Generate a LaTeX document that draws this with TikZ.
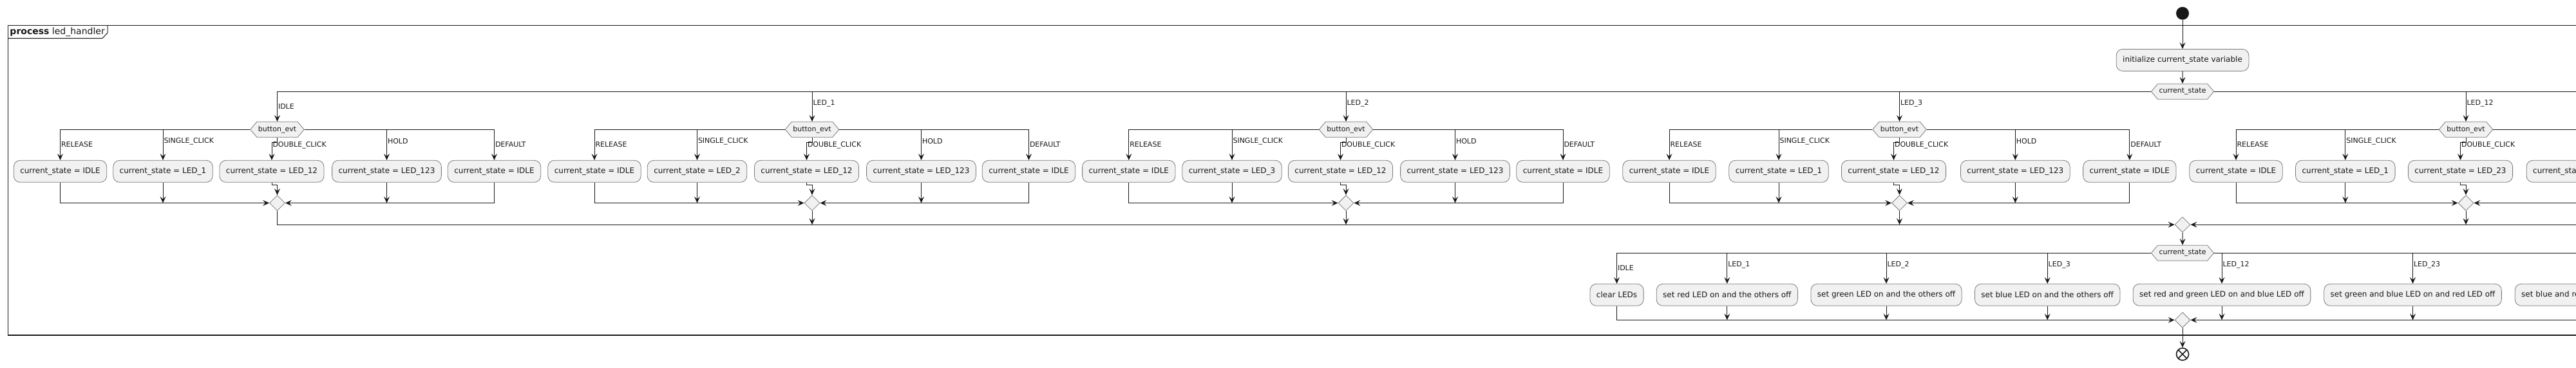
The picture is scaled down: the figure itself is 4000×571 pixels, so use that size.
\documentclass[tikz,border=0pt]{standalone}
\usepackage{fontspec}
\setmainfont{DejaVu Sans}
\usetikzlibrary{calc}
\usetikzlibrary{arrows.meta}
\usetikzlibrary{shapes.geometric}
\usetikzlibrary{shapes.symbols}
\definecolor{ink}{HTML}{181818}
\definecolor{shade}{HTML}{F1F1F1}
\definecolor{edgegray}{HTML}{7A7A7A}
\tikzset{act/.style = {draw=edgegray, fill=shade, rectangle, rounded corners=10pt,
                       minimum height=34pt, inner xsep=10pt, inner ysep=0pt,
                       line width=0.8pt, font=\fontsize{12}{14}\selectfont}}
\tikzset{hexa/.style = {draw=edgegray, fill=shade, signal, signal to=east and west,
                        signal pointer angle=100, minimum height=24pt, inner xsep=2pt,
                        inner ysep=0pt, line width=0.8pt, font=\fontsize{11}{13}\selectfont}}
\tikzset{merge/.style = {draw=edgegray, fill=shade, diamond, aspect=1,
                         minimum size=24pt, inner sep=0pt, line width=0.8pt}}
\tikzset{lbl/.style = {anchor=west, inner xsep=1pt, inner ysep=0pt,
                       font=\fontsize{11}{13}\selectfont}}
\tikzset{flow/.style = {-{Stealth[length=10pt, width=9pt, inset=4pt]}}}
\begin{document}
\begin{tikzpicture}[x=1pt, y=-1pt, color=ink, line width=1pt]
        \useasboundingbox (0,0) rectangle (4000,571);
        \coordinate (rim) at (4010,0);
        \draw[line width=1.5pt] (4010,39.5) -- (12.3,39.5) -- (12.3,521) -- (4010,521);
        \draw (12.3,59.5) -- (159,59.5) -- (167,51) -- (167,39.5);
        \node[anchor=west, inner sep=0pt, font=\fontsize{14}{16}\selectfont] (ttl) at (15,49.5) {\textbf{process} led\_handler};
        \node[fill=ink, circle, inner sep=0pt, minimum size=20pt] (start) at (3389,20.7) {};
        \node[act] (init) at (3389,93.4) {initialize current\_state variable};
        \node[hexa] (sw) at (3389,142.3) {current\_state};
        \node[hexa] (ev1) at (430.5,201.3) {button\_evt};
        \node[act] (rel1) at (93.5,266.3) {current\_state = IDLE};
        \node[act] (sgl1) at (253,266.3) {current\_state = LED\_1};
        \node[act] (dbl1) at (422,266.3) {current\_state = LED\_12};
        \node[act] (hld1) at (600.5,266.3) {current\_state = LED\_123};
        \node[act] (dft1) at (767.5,266.3) {current\_state = IDLE};
        \node[merge] (mg1) at (430.5,315.5) {};
        \node[hexa] (ev2) at (1261,201.3) {button\_evt};
        \node[act] (rel2) at (923,266.3) {current\_state = IDLE};
        \node[act] (sgl2) at (1082.5,266.3) {current\_state = LED\_2};
        \node[act] (dbl2) at (1252.5,266.3) {current\_state = LED\_12};
        \node[act] (hld2) at (1430.5,266.3) {current\_state = LED\_123};
        \node[act] (dft2) at (1597.5,266.3) {current\_state = IDLE};
        \node[merge] (mg2) at (1261,315.5) {};
        \node[hexa] (ev3) at (2090,201.3) {button\_evt};
        \node[act] (rel3) at (1752.8,266.3) {current\_state = IDLE};
        \node[act] (sgl3) at (1913,266.3) {current\_state = LED\_3};
        \node[act] (dbl3) at (2081.5,266.3) {current\_state = LED\_12};
        \node[act] (hld3) at (2259.5,266.3) {current\_state = LED\_123};
        \node[act] (dft3) at (2427,266.3) {current\_state = IDLE};
        \node[merge] (mg3) at (2090,315.5) {};
        \node[hexa] (ev4) at (2949.5,201.3) {button\_evt};
        \node[act] (rel4) at (2592,266.3) {current\_state = IDLE};
        \node[act] (sgl4) at (2762,266.3) {current\_state = LED\_1};
        \node[act] (dbl4) at (2940.5,266.3) {current\_state = LED\_12};
        \node[act] (hld4) at (3129.3,266.3) {current\_state = LED\_123};
        \node[act] (dft4) at (3306.8,266.3) {current\_state = IDLE};
        \node[merge] (mg4) at (2949.5,315.5) {};
        \node[hexa] (ev5) at (3829,201.3) {button\_evt};
        \node[act] (rel5) at (3472,266.3) {current\_state = IDLE};
        \node[act] (sgl5) at (3641.8,266.3) {current\_state = LED\_1};
        \node[act] (dbl5) at (3820.5,266.3) {current\_state = LED\_23};
        \node[act] (hld5) at (4008,266.3) {current\_state = LED\_123};
        \node[merge] (mg5) at (3829,315.5) {};
        \node[merge] (omg) at (3389,349.2) {};
        \node[hexa] (sw2) at (3389,393.3) {current\_state};
        \node[act] (o1) at (2510.5,458.3) {clear LEDs};
        \node[act] (o2) at (2681.8,458.3) {set red LED on and the others off};
        \node[act] (o3) at (2929,458.3) {set green LED on and the others off};
        \node[act] (o4) at (3179.2,458.3) {set blue LED on and the others off};
        \node[act] (o5) at (3450,458.3) {set red and green LED on and blue LED off};
        \node[act] (o6) at (3746.5,458.3) {set green and blue LED on and red LED off};
        \node[act] (o7) at (4043,458.3) {set blue and red LED on and green LED off};
        \node[merge] (fin) at (3389,497.4) {};
        \node[circle, draw=ink, line width=1.6pt, minimum size=19pt, inner sep=0pt,
              path picture={\draw[line width=1.6pt] (path picture bounding box.north west) -- (path picture bounding box.south east)
                            (path picture bounding box.north east) -- (path picture bounding box.south west);}] (stop) at (3389,550.5) {};
        \draw[flow] (start) -- (init);
        \draw[flow] (init) -- (sw);
        \draw (ev1 |- sw) -- (sw.west);
        \draw (sw.east) -- (rim |- sw);
        \draw[flow] (ev1 |- sw) -- node[lbl, pos=.5] (p1) {IDLE} (ev1.north);
        \draw[flow] (ev2 |- sw) -- node[lbl, pos=.4] (p2) {LED\_1} (ev2.north);
        \draw[flow] (ev3 |- sw) -- node[lbl, pos=.4] (p3) {LED\_2} (ev3.north);
        \draw[flow] (ev4 |- sw) -- node[lbl, pos=.4] (p4) {LED\_3} (ev4.north);
        \draw[flow] (ev5 |- sw) -- node[lbl, pos=.4] (p5) {LED\_12} (ev5.north);
        \draw (rel1 |- ev1) -- (ev1.west);
        \draw (ev1.east) -- (dft1 |- ev1);
        \draw[flow] (rel1 |- ev1) -- node[lbl, pos=.49] (q11) {RELEASE} (rel1.north);
        \draw[flow] (sgl1 |- ev1) -- node[lbl, pos=.39] (q12) {SINGLE\_CLICK} (sgl1.north);
        \draw[flow] (ev1.south) -- ++(0,7.5) -| (dbl1.north);
        \node[lbl] (q13) at ($(dbl1.north)+(0,-23)$) {DOUBLE\_CLICK};
        \draw[flow] (hld1 |- ev1) -- node[lbl, pos=.39] (q14) {HOLD} (hld1.north);
        \draw[flow] (dft1 |- ev1) -- node[lbl, pos=.49] (q15) {DEFAULT} (dft1.north);
        \draw[flow] (rel1.south) |- (mg1.west);
        \draw[flow] (sgl1.south) -- (sgl1 |- mg1);
        \draw[flow] (dbl1.south) -- ++(0,4) -| (mg1.north);
        \draw[flow] (hld1.south) -- (hld1 |- mg1);
        \draw[flow] (dft1.south) |- (mg1.east);
        \draw[flow] (mg1.south) |- (omg.west);
        \draw (rel2 |- ev2) -- (ev2.west);
        \draw (ev2.east) -- (dft2 |- ev2);
        \draw[flow] (rel2 |- ev2) -- node[lbl, pos=.49] (q21) {RELEASE} (rel2.north);
        \draw[flow] (sgl2 |- ev2) -- node[lbl, pos=.39] (q22) {SINGLE\_CLICK} (sgl2.north);
        \draw[flow] (ev2.south) -- ++(0,7.5) -| (dbl2.north);
        \node[lbl] (q23) at ($(dbl2.north)+(0,-23)$) {DOUBLE\_CLICK};
        \draw[flow] (hld2 |- ev2) -- node[lbl, pos=.39] (q24) {HOLD} (hld2.north);
        \draw[flow] (dft2 |- ev2) -- node[lbl, pos=.49] (q25) {DEFAULT} (dft2.north);
        \draw[flow] (rel2.south) |- (mg2.west);
        \draw[flow] (sgl2.south) -- (sgl2 |- mg2);
        \draw[flow] (dbl2.south) -- ++(0,4) -| (mg2.north);
        \draw[flow] (hld2.south) -- (hld2 |- mg2);
        \draw[flow] (dft2.south) |- (mg2.east);
        \draw[flow] (mg2.south) -- (mg2 |- omg);
        \draw (rel3 |- ev3) -- (ev3.west);
        \draw (ev3.east) -- (dft3 |- ev3);
        \draw[flow] (rel3 |- ev3) -- node[lbl, pos=.49] (q31) {RELEASE} (rel3.north);
        \draw[flow] (sgl3 |- ev3) -- node[lbl, pos=.39] (q32) {SINGLE\_CLICK} (sgl3.north);
        \draw[flow] (ev3.south) -- ++(0,7.5) -| (dbl3.north);
        \node[lbl] (q33) at ($(dbl3.north)+(0,-23)$) {DOUBLE\_CLICK};
        \draw[flow] (hld3 |- ev3) -- node[lbl, pos=.39] (q34) {HOLD} (hld3.north);
        \draw[flow] (dft3 |- ev3) -- node[lbl, pos=.49] (q35) {DEFAULT} (dft3.north);
        \draw[flow] (rel3.south) |- (mg3.west);
        \draw[flow] (sgl3.south) -- (sgl3 |- mg3);
        \draw[flow] (dbl3.south) -- ++(0,4) -| (mg3.north);
        \draw[flow] (hld3.south) -- (hld3 |- mg3);
        \draw[flow] (dft3.south) |- (mg3.east);
        \draw[flow] (mg3.south) -- (mg3 |- omg);
        \draw (rel4 |- ev4) -- (ev4.west);
        \draw (ev4.east) -- (dft4 |- ev4);
        \draw[flow] (rel4 |- ev4) -- node[lbl, pos=.49] (q41) {RELEASE} (rel4.north);
        \draw[flow] (sgl4 |- ev4) -- node[lbl, pos=.39] (q42) {SINGLE\_CLICK} (sgl4.north);
        \draw[flow] (ev4.south) -- ++(0,7.5) -| (dbl4.north);
        \node[lbl] (q43) at ($(dbl4.north)+(0,-23)$) {DOUBLE\_CLICK};
        \draw[flow] (hld4 |- ev4) -- node[lbl, pos=.39] (q44) {HOLD} (hld4.north);
        \draw[flow] (dft4 |- ev4) -- node[lbl, pos=.49] (q45) {DEFAULT} (dft4.north);
        \draw[flow] (rel4.south) |- (mg4.west);
        \draw[flow] (sgl4.south) -- (sgl4 |- mg4);
        \draw[flow] (dbl4.south) -- ++(0,4) -| (mg4.north);
        \draw[flow] (hld4.south) -- (hld4 |- mg4);
        \draw[flow] (dft4.south) |- (mg4.east);
        \draw[flow] (mg4.south) -- (mg4 |- omg);
        \draw (rel5 |- ev5) -- (ev5.west);
        \draw (ev5.east) -- (rim |- ev5);
        \draw[flow] (rel5 |- ev5) -- node[lbl, pos=.49] (q51) {RELEASE} (rel5.north);
        \draw[flow] (sgl5 |- ev5) -- node[lbl, pos=.39] (q52) {SINGLE\_CLICK} (sgl5.north);
        \draw[flow] (ev5.south) -- ++(0,7.5) -| (dbl5.north);
        \node[lbl] (q53) at ($(dbl5.north)+(0,-23)$) {DOUBLE\_CLICK};
        \draw[flow] (rel5.south) |- (mg5.west);
        \draw[flow] (sgl5.south) -- (sgl5 |- mg5);
        \draw[flow] (dbl5.south) -- ++(0,4) -| (mg5.north);
        \draw[flow] (rim |- mg5) -- (mg5.east);
        \draw[flow] (mg5.south) -- (mg5 |- omg);
        \draw[flow] (rim |- omg) -- (omg.east);
        \draw[flow] (omg) -- (sw2);
        \draw (o1 |- sw2) -- (sw2.west);
        \draw (sw2.east) -- (rim |- sw2);
        \draw[flow] (o1 |- sw2) -- node[lbl, pos=.49] (r1) {IDLE} (o1.north);
        \draw[flow] (o2 |- sw2) -- node[lbl, pos=.39] (r2) {LED\_1} (o2.north);
        \draw[flow] (o3 |- sw2) -- node[lbl, pos=.39] (r3) {LED\_2} (o3.north);
        \draw[flow] (o4 |- sw2) -- node[lbl, pos=.39] (r4) {LED\_3} (o4.north);
        \draw[flow] (o5 |- sw2) -- node[lbl, pos=.39] (r5) {LED\_12} (o5.north);
        \draw[flow] (o6 |- sw2) -- node[lbl, pos=.39] (r6) {LED\_23} (o6.north);
        \draw[flow] (o1.south) |- (fin.west);
        \draw[flow] (o2.south) -- (o2 |- fin);
        \draw[flow] (o3.south) -- (o3 |- fin);
        \draw[flow] (o4.south) -- (o4 |- fin);
        \draw[flow] (o5.south) -- (o5 |- fin);
        \draw[flow] (o6.south) -- (o6 |- fin);
        \draw[flow] (rim |- fin) -- (fin.east);
        \draw[flow] (fin) -- (stop);
\end{tikzpicture}
\end{document}
